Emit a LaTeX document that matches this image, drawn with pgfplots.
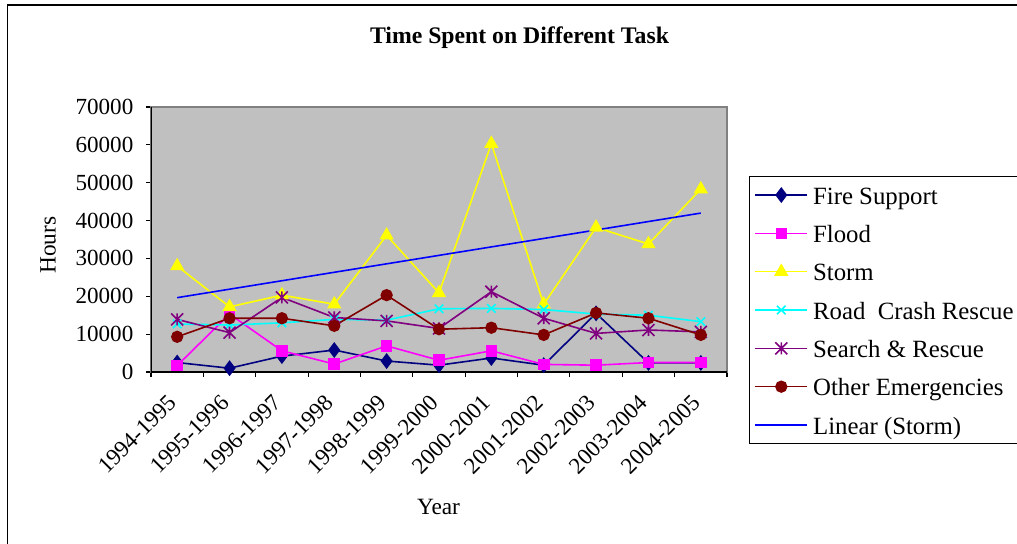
\documentclass[border=0pt]{standalone}
\usepackage{fontspec}
\setmainfont{Liberation Serif}
\usepackage{pgfplots}
\pgfplotsset{compat=1.18}
\definecolor{fsnavy}{HTML}{000080}
\definecolor{flmag}{HTML}{FF00FF}
\definecolor{styel}{HTML}{FFFF00}
\definecolor{rccyan}{HTML}{00FFFF}
\definecolor{srpurp}{HTML}{800080}
\definecolor{oered}{HTML}{800000}
\definecolor{lnblue}{HTML}{0000FF}
\definecolor{silver}{HTML}{C0C0C0}
\definecolor{plotgray}{HTML}{808080}
\pgfdeclareplotmark{xstar}{%
  \pgfpathmoveto{\pgfqpoint{0pt}{\pgfplotmarksize}}\pgfpathlineto{\pgfqpoint{0pt}{-\pgfplotmarksize}}%
  \pgfpathmoveto{\pgfqpoint{-\pgfplotmarksize}{-\pgfplotmarksize}}\pgfpathlineto{\pgfqpoint{\pgfplotmarksize}{\pgfplotmarksize}}%
  \pgfpathmoveto{\pgfqpoint{-\pgfplotmarksize}{\pgfplotmarksize}}\pgfpathlineto{\pgfqpoint{\pgfplotmarksize}{-\pgfplotmarksize}}%
  \pgfusepathqstroke}
\tikzset{imgcoords/.style={shift={(-113.25pt,279pt)}, x=0.75pt, y=-0.75pt}}
\begin{document}
\begin{tikzpicture}
\begin{scope}[imgcoords]
  \draw[black, line width=0.8pt] (7.5,560) -- (7.5,5) -- (1030,5);
  \node[font=\bfseries\fontsize{17.8}{20}\selectfont] at (519.5,38) {Time Spent on Different Task};
  \node[font=\fontsize{17.5}{20}\selectfont, rotate=90] at (48,245) {Hours};
  \node[font=\fontsize{17.5}{20}\selectfont] at (438.5,507) {Year};
\end{scope}
\begin{axis}[
  at={(0pt,0pt)}, anchor=south west,
  scale only axis, width=432pt, height=198.75pt,
  xmin=-0.5, xmax=10.5, ymin=0, ymax=70000,
  axis background/.style={fill=silver},
  axis line style={draw=plotgray, line width=0.8pt},
  tick align=outside, tick pos=left,
  xtick={0,...,10},
  xticklabels={1994-1995,1995-1996,1996-1997,1997-1998,1998-1999,1999-2000,2000-2001,2001-2002,2002-2003,2003-2004,2004-2005},
  minor xtick={-0.5,0.5,...,10.5},
  major x tick style={draw=none},
  minor x tick style={black, line width=0.8pt},
  minor tick length=3.75pt,
  major tick length=3.75pt,
  ytick={0,10000,...,70000},
  major y tick style={black, line width=0.8pt},
  scaled y ticks=false,
  /pgf/number format/1000 sep={},
  /pgf/number format/assume math mode=true,
  tick label style={font=\fontsize{17.3}{20}\selectfont},
  xticklabel style={yshift=-14pt, xshift=-1pt, rotate=45, anchor=east},
  yticklabel style={xshift=-6pt},
  legend style={at={(axis description cs:1.0382,0.7396)}, anchor=north west,
    draw=black, line width=0.75pt, fill=white,
    font=\fontsize{18.6}{21}\selectfont,
    inner xsep=3.75pt, inner ysep=6pt, row sep=13pt, column sep=3.75pt,
    nodes={inner sep=0pt, text height=14.75pt, text depth=1pt}},
  legend cell align=left,
  legend image code/.code={\draw[mark repeat=2,mark phase=2] plot coordinates {(0pt,0pt)(19.5pt,0pt)(39pt,0pt)};},
  every axis plot/.append style={line width=1.2pt},
]
\addplot[color=fsnavy, mark=diamond*, mark size=5pt, mark options={solid, fill=fsnavy}] coordinates {
 (0,2500)(1,1000)(2,4200)(3,5800)(4,2900)(5,1800)(6,3700)(7,1800)(8,15500)(9,2400)(10,2400)};
\addlegendentry{Fire Support}
\addplot[color=flmag, mark=square*, mark size=3.75pt, mark options={solid, fill=flmag}] coordinates {
 (0,1700)(1,15300)(2,5600)(3,2100)(4,6900)(5,3100)(6,5600)(7,2000)(8,1800)(9,2500)(10,2500)};
\addlegendentry{Flood}
\addplot[color=styel, mark=triangle*, mark size=5pt, mark options={solid, fill=styel}] coordinates {
 (0,28000)(1,17200)(2,20300)(3,17900)(4,36100)(5,20900)(6,60300)(7,17900)(8,38200)(9,33800)(10,48300)};
\addlegendentry{Storm}
\addplot[color=rccyan, mark=x, mark size=4.5pt, mark options={solid}] coordinates {
 (0,12700)(1,12400)(2,13000)(3,13900)(4,13700)(5,16700)(6,16800)(7,16500)(8,15300)(9,15000)(10,13300)};
\addlegendentry{Road\ \ Crash Rescue\hspace*{12pt}}
\addplot[color=srpurp, mark=xstar, mark size=4.5pt, mark options={solid}] coordinates {
 (0,13900)(1,10400)(2,19700)(3,14400)(4,13500)(5,11500)(6,21200)(7,14200)(8,10200)(9,11100)(10,10600)};
\addlegendentry{Search \& Rescue}
\addplot[color=oered, mark=*, mark size=4pt, mark options={solid, fill=oered}] coordinates {
 (0,9300)(1,14200)(2,14200)(3,12200)(4,20300)(5,11300)(6,11700)(7,9800)(8,15600)(9,14200)(10,9800)};
\addlegendentry{Other Emergencies}
\addplot[color=lnblue, no marks] coordinates {(0,19640)(10,41980)};
\addlegendentry{Linear (Storm)}
\draw[black, line width=0.8pt] (rel axis cs:0,1) -- (rel axis cs:0,0) -- (rel axis cs:1,0);
\end{axis}
\pgfresetboundingbox
\begin{scope}[imgcoords]
  \useasboundingbox (0,0) rectangle (1017,543);
\end{scope}
\end{tikzpicture}
\end{document}
